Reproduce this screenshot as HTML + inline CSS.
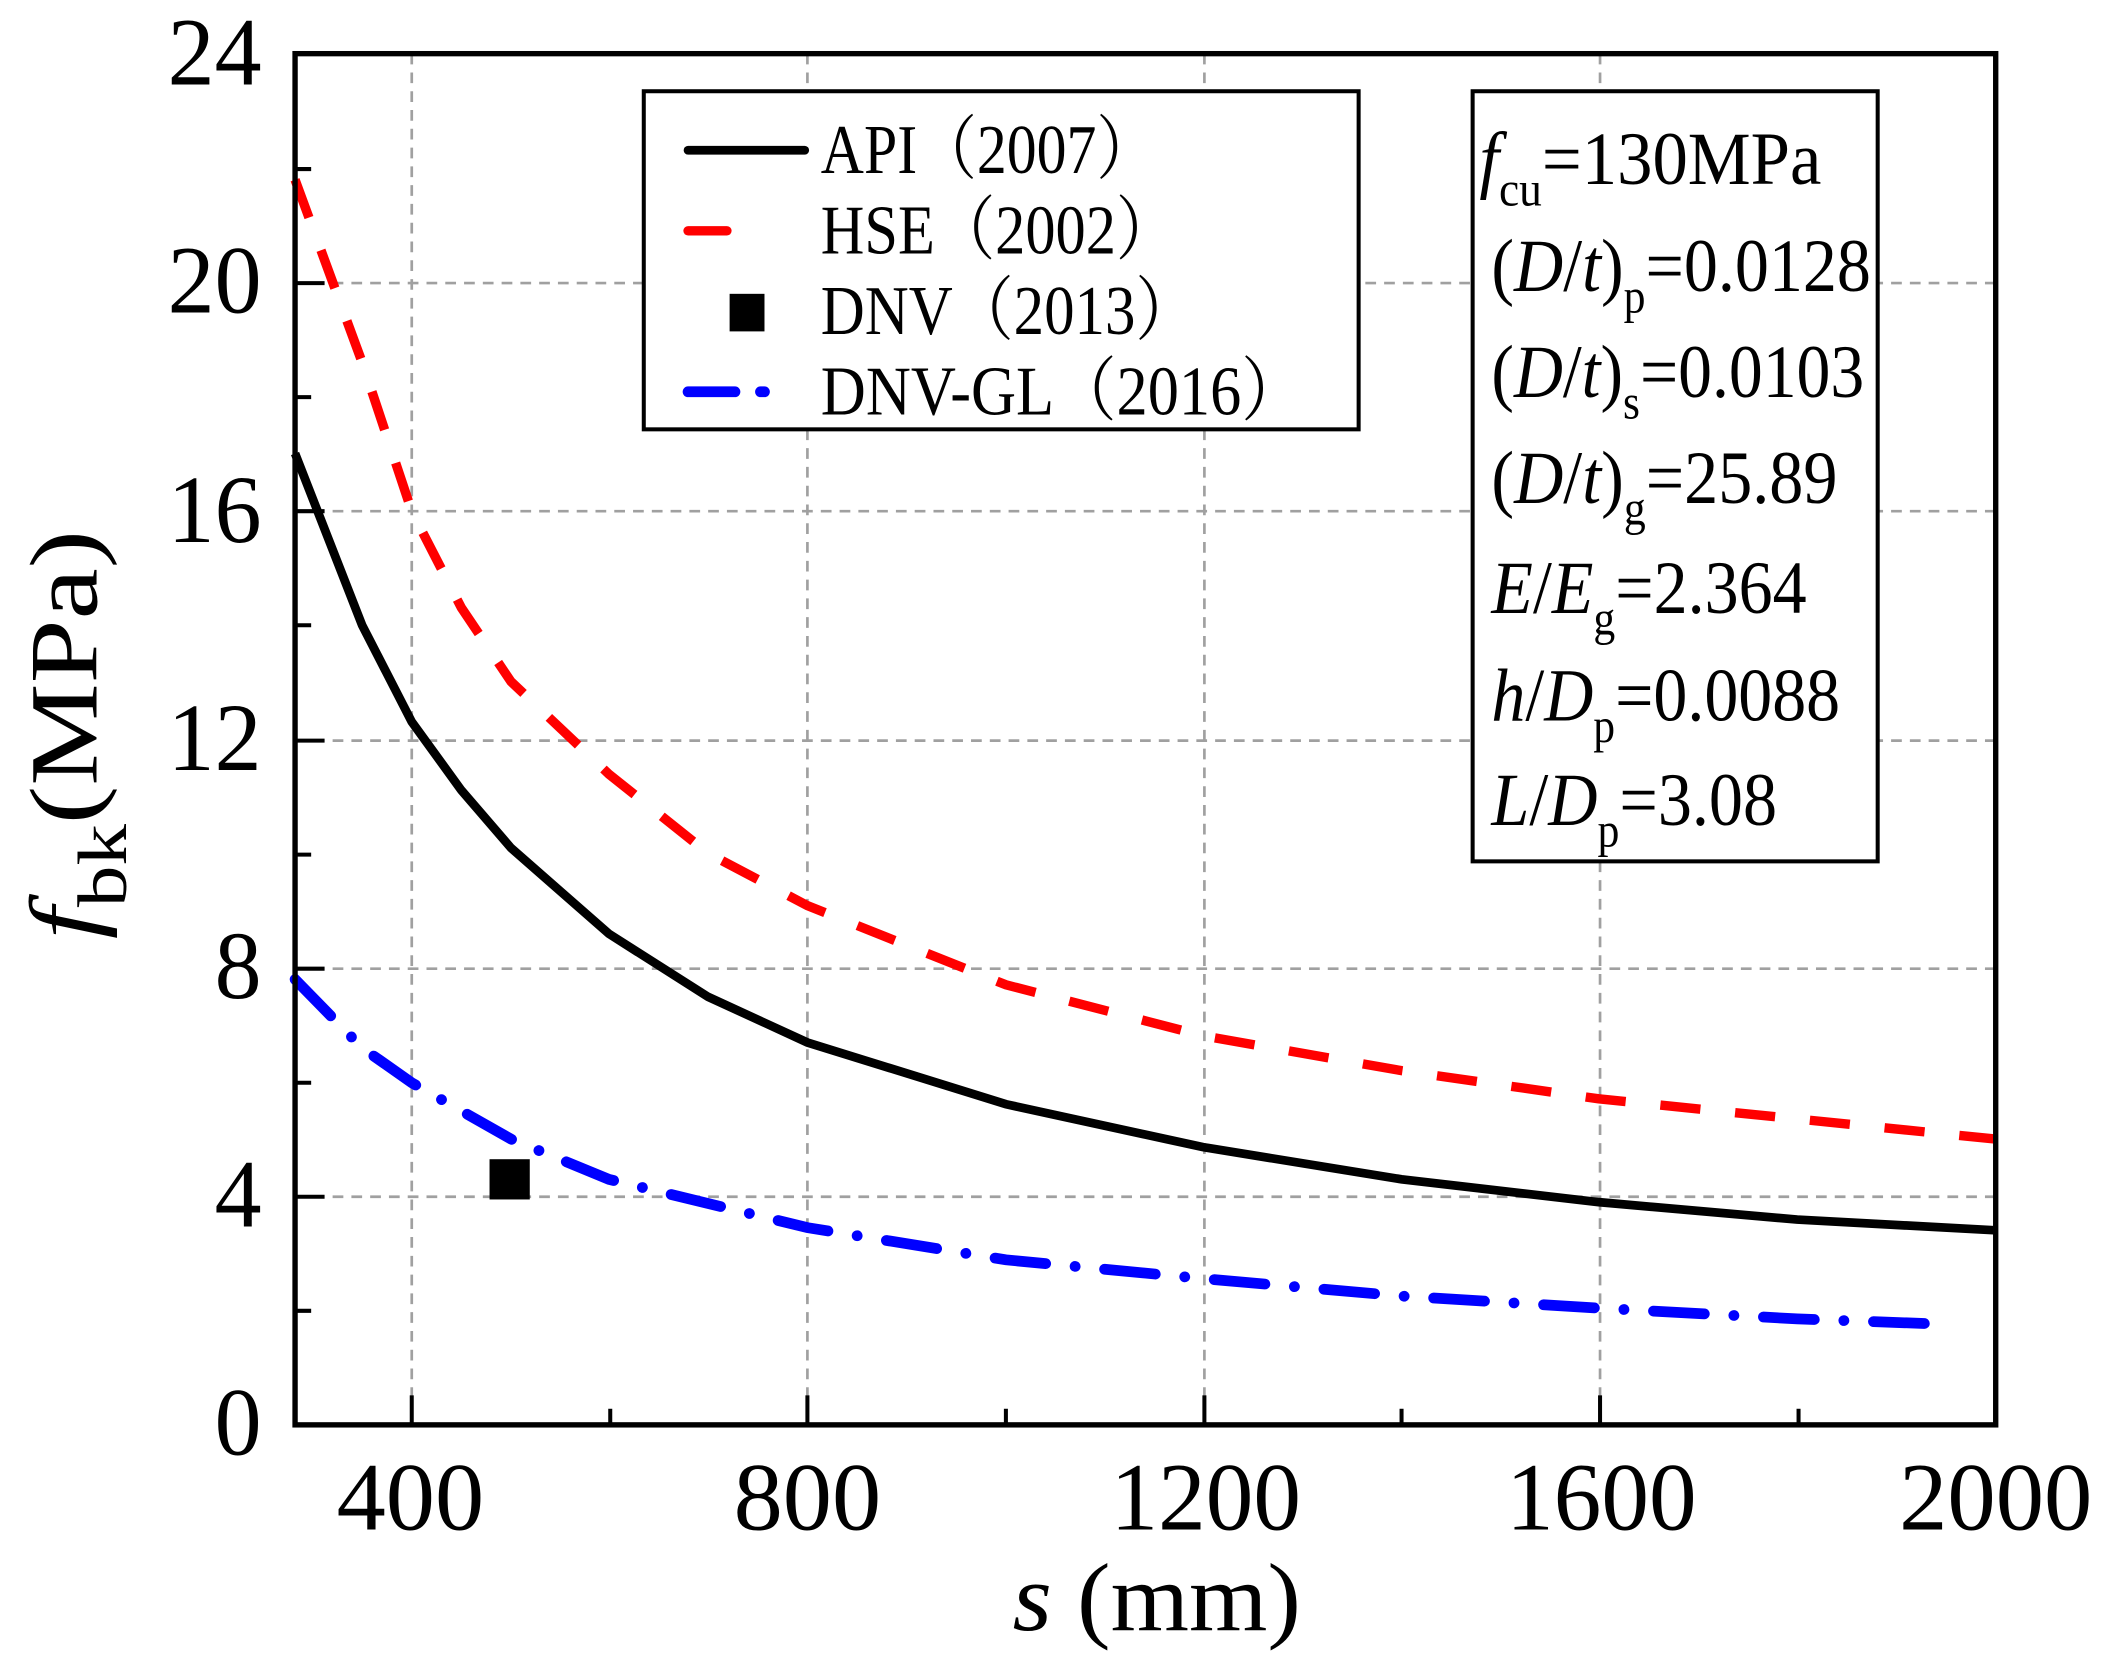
<!DOCTYPE html>
<html><head><meta charset="utf-8"><style>html,body{margin:0;padding:0;background:#fff}svg{display:block}</style></head>
<body>
<svg width="2103" height="1661" viewBox="0 0 1568 1238" preserveAspectRatio="none" xmlns="http://www.w3.org/2000/svg" font-family="'Liberation Serif', serif">
<rect width="1568" height="1238" fill="#fff"/>
<g stroke="#a0a0a0" stroke-width="2" stroke-dasharray="8 6" fill="none">
<line x1="307" y1="40" x2="307" y2="1062"/>
<line x1="602" y1="40" x2="602" y2="1062"/>
<line x1="898" y1="40" x2="898" y2="1062"/>
<line x1="1193" y1="40" x2="1193" y2="1062"/>
<line x1="220" y1="211" x2="1488" y2="211"/>
<line x1="220" y1="381" x2="1488" y2="381"/>
<line x1="220" y1="552" x2="1488" y2="552"/>
<line x1="220" y1="722" x2="1488" y2="722"/>
<line x1="220" y1="892" x2="1488" y2="892"/>
</g>
<g stroke="#000" stroke-width="3" fill="none">
<line x1="220" y1="126" x2="232" y2="126"/><line x1="220" y1="296" x2="232" y2="296"/><line x1="220" y1="466" x2="232" y2="466"/><line x1="220" y1="637" x2="232" y2="637"/><line x1="220" y1="807" x2="232" y2="807"/><line x1="220" y1="977" x2="232" y2="977"/>
<line x1="220" y1="211" x2="242" y2="211"/><line x1="220" y1="381" x2="242" y2="381"/><line x1="220" y1="552" x2="242" y2="552"/><line x1="220" y1="722" x2="242" y2="722"/><line x1="220" y1="892" x2="242" y2="892"/>
<line x1="455" y1="1062" x2="455" y2="1050"/><line x1="750" y1="1062" x2="750" y2="1050"/><line x1="1045" y1="1062" x2="1045" y2="1050"/><line x1="1341" y1="1062" x2="1341" y2="1050"/>
<line x1="307" y1="1062" x2="307" y2="1040"/><line x1="602" y1="1062" x2="602" y2="1040"/><line x1="898" y1="1062" x2="898" y2="1040"/><line x1="1193" y1="1062" x2="1193" y2="1040"/>
</g>
<polyline fill="none" stroke="#f00" stroke-width="7" stroke-dasharray="30 26" points="220,134 270,270 307,381 344,453 381,508 454,577 528,636 602,675 750,734 897,772 1045,798 1192,819 1340,834 1488,849"/>
<polyline fill="none" stroke="#000" stroke-width="6.5" points="220,338 270,466 307,538 344,589 381,632 454,696 528,743 602,777 750,823 897,855 1045,879 1192,896 1340,909 1488,917"/>
<polyline fill="none" stroke="#00f" stroke-width="8" stroke-linecap="round" stroke-dasharray="38 22 0.1 22" points="220,730 270,781 307,807 381,849 454,879 602,915 750,939 897,953 1045,966 1192,975 1340,983 1450,987"/>
<rect x="365" y="864" width="30" height="30" fill="#000"/>
<rect x="220" y="40" width="1268" height="1022" fill="none" stroke="#000" stroke-width="4"/>
<g font-size="72" fill="#000" lengthAdjust="spacingAndGlyphs">
<text x="125" y="63" textLength="70" lengthAdjust="spacingAndGlyphs">24</text>
<text x="125" y="233" textLength="70" lengthAdjust="spacingAndGlyphs">20</text>
<text x="125" y="404" textLength="70" lengthAdjust="spacingAndGlyphs">16</text>
<text x="125" y="574" textLength="70" lengthAdjust="spacingAndGlyphs">12</text>
<text x="160" y="744" textLength="35" lengthAdjust="spacingAndGlyphs">8</text>
<text x="160" y="914" textLength="35" lengthAdjust="spacingAndGlyphs">4</text>
<text x="160" y="1084" textLength="35" lengthAdjust="spacingAndGlyphs">0</text>
<text x="251" y="1140" textLength="110" lengthAdjust="spacingAndGlyphs">400</text>
<text x="547" y="1140" textLength="110" lengthAdjust="spacingAndGlyphs">800</text>
<text x="828" y="1140" textLength="142" lengthAdjust="spacingAndGlyphs">1200</text>
<text x="1123" y="1140" textLength="142" lengthAdjust="spacingAndGlyphs">1600</text>
<text x="1416" y="1140" textLength="144" lengthAdjust="spacingAndGlyphs">2000</text>
</g>
<text x="755" y="1215" font-size="72" textLength="215" lengthAdjust="spacingAndGlyphs"><tspan font-style="italic">s</tspan> (mm)</text>
<text transform="translate(72,700) rotate(-90)" font-size="72" textLength="305" lengthAdjust="spacingAndGlyphs"><tspan font-style="italic">f</tspan><tspan font-size="52" dy="22">bk</tspan><tspan dy="-22">(MPa)</tspan></text>
<rect x="480" y="68" width="533" height="252" fill="#fff" stroke="#000" stroke-width="3"/>
<line x1="513" y1="112" x2="600" y2="112" stroke="#000" stroke-width="6.5" stroke-linecap="round"/>
<line x1="513" y1="172" x2="542" y2="172" stroke="#f00" stroke-width="7" stroke-linecap="round"/>
<rect x="544" y="219" width="26" height="28" fill="#000"/>
<line x1="513" y1="292" x2="548" y2="292" stroke="#00f" stroke-width="8" stroke-linecap="round"/>
<line x1="567" y1="292" x2="570" y2="292" stroke="#00f" stroke-width="8" stroke-linecap="round"/>
<g font-family="'Liberation Serif','Noto Serif CJK SC',serif" font-size="52" fill="#000">
<text x="612" y="129" textLength="250" lengthAdjust="spacingAndGlyphs">API（2007）</text>
<text x="612" y="189" textLength="265" lengthAdjust="spacingAndGlyphs">HSE（2002）</text>
<text x="612" y="249" textLength="280" lengthAdjust="spacingAndGlyphs">DNV（2013）</text>
<text x="612" y="309" textLength="360" lengthAdjust="spacingAndGlyphs">DNV-GL（2016）</text>
</g>
<rect x="1098" y="68" width="302" height="574" fill="#fff" stroke="#000" stroke-width="3"/>
<g font-size="56" fill="#000">
<text x="1103" y="137" textLength="255" lengthAdjust="spacingAndGlyphs"><tspan font-style="italic">f</tspan><tspan font-size="36" dy="16">cu</tspan><tspan dy="-16">=130MPa</tspan></text>
<text x="1112" y="217" textLength="283" lengthAdjust="spacingAndGlyphs">(<tspan font-style="italic">D</tspan>/<tspan font-style="italic">t</tspan>)<tspan font-size="36" dy="16">p</tspan><tspan dy="-16">=0.0128</tspan></text>
<text x="1112" y="296" textLength="278" lengthAdjust="spacingAndGlyphs">(<tspan font-style="italic">D</tspan>/<tspan font-style="italic">t</tspan>)<tspan font-size="36" dy="16">s</tspan><tspan dy="-16">=0.0103</tspan></text>
<text x="1112" y="375" textLength="258" lengthAdjust="spacingAndGlyphs">(<tspan font-style="italic">D</tspan>/<tspan font-style="italic">t</tspan>)<tspan font-size="36" dy="16">g</tspan><tspan dy="-16">=25.89</tspan></text>
<text x="1112" y="457" textLength="235" lengthAdjust="spacingAndGlyphs"><tspan font-style="italic">E</tspan>/<tspan font-style="italic">E</tspan><tspan font-size="36" dy="16">g</tspan><tspan dy="-16">=2.364</tspan></text>
<text x="1112" y="537" textLength="260" lengthAdjust="spacingAndGlyphs"><tspan font-style="italic">h</tspan>/<tspan font-style="italic">D</tspan><tspan font-size="36" dy="16">p</tspan><tspan dy="-16">=0.0088</tspan></text>
<text x="1112" y="615" textLength="213" lengthAdjust="spacingAndGlyphs"><tspan font-style="italic">L</tspan>/<tspan font-style="italic">D</tspan><tspan font-size="36" dy="16">p</tspan><tspan dy="-16">=3.08</tspan></text>
</g>
</svg>
</body></html>
